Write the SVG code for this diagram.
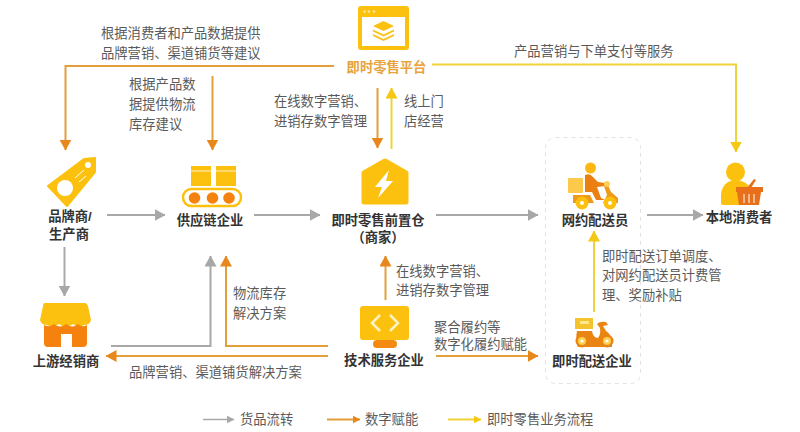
<svg xmlns="http://www.w3.org/2000/svg" width="800" height="432" viewBox="0 0 800 432">
<style>
text{font-family:"Liberation Sans","Noto Sans CJK SC",sans-serif;font-size:13.3px;fill:#5a5a5a}
.n{font-weight:700;fill:#333;text-anchor:middle}
.g,.o,.y{fill:none;stroke-width:2}
.g{stroke:#a8a8a8}.o{stroke:#e3a03a}.y{stroke:#efd23a}
.fy{fill:#fcc10f}.fo{fill:#f5820f}.w{fill:#fff}
</style>
<defs>
<marker id="mg" markerUnits="userSpaceOnUse" markerWidth="11" markerHeight="12" refX="10.500" refY="6" orient="auto"><path d="M0 0L11 6L0 12Z" fill="#a8a8a8"/></marker>
<marker id="mo" markerUnits="userSpaceOnUse" markerWidth="11" markerHeight="12" refX="10.500" refY="6" orient="auto"><path d="M0 0L11 6L0 12Z" fill="#e8871c"/></marker>
<marker id="my" markerUnits="userSpaceOnUse" markerWidth="11" markerHeight="12" refX="10.500" refY="6" orient="auto"><path d="M0 0L11 6L0 12Z" fill="#f4c815"/></marker>
<marker id="lg" markerUnits="userSpaceOnUse" markerWidth="8" markerHeight="8" refX="7.500" refY="4" orient="auto"><path d="M0 0L8 4L0 8Z" fill="#a8a8a8"/></marker>
<marker id="lo" markerUnits="userSpaceOnUse" markerWidth="8" markerHeight="8" refX="7.500" refY="4" orient="auto"><path d="M0 0L8 4L0 8Z" fill="#e8871c"/></marker>
<marker id="ly" markerUnits="userSpaceOnUse" markerWidth="8" markerHeight="8" refX="7.500" refY="4" orient="auto"><path d="M0 0L8 4L0 8Z" fill="#f4c815"/></marker>
</defs>
<rect x="545.500" y="137.500" width="95" height="246" rx="10" fill="none" stroke="#e2e2e2" stroke-dasharray="4 4"/>
<g id="connectors">
<path class="o" marker-end="url(#mo)" d="M334 66H65.500V150"/>
<path class="o" marker-end="url(#mo)" d="M212.500 76V150"/>
<path class="o" marker-end="url(#mo)" d="M377.500 88V148"/>
<path class="y" marker-end="url(#my)" d="M391.500 149V88"/>
<path class="y" marker-end="url(#my)" d="M432 64.500H736V152"/>
<path class="g" marker-end="url(#mg)" d="M107 215H165"/>
<path class="g" marker-end="url(#mg)" d="M254 215H320"/>
<path class="g" marker-end="url(#mg)" d="M436 215H538"/>
<path class="g" marker-end="url(#mg)" d="M647 215H703"/>
<path class="g" marker-end="url(#mg)" d="M64.500 247V296"/>
<path class="g" marker-end="url(#mg)" d="M111 346H210.500V256"/>
<path class="o" marker-end="url(#mo)" d="M328 346H226V256"/>
<path class="o" marker-end="url(#mo)" d="M328 356H106"/>
<path class="o" marker-end="url(#mo)" d="M385.500 300V256"/>
<path class="o" marker-end="url(#mo)" d="M436 356H538"/>
<path class="y" marker-end="url(#my)" d="M594 312V231"/>
<path class="g" marker-end="url(#lg)" d="M203 419.500H234" style="stroke-width:1.500"/>
<path class="o" marker-end="url(#lo)" d="M327 419.500H360"/>
<path class="y" marker-end="url(#ly)" d="M448 419.500H481"/>
</g>
<g id="platform">
<rect x="358" y="6" width="51" height="44" rx="3" class="fy"/>
<rect x="362" y="17" width="43" height="29" class="w"/>
<circle cx="364.500" cy="11.500" r="1.200" fill="#ffe9a0"/><circle cx="369" cy="11.500" r="1.200" fill="#ffe9a0"/><circle cx="374" cy="11.500" r="1.200" fill="#ffe9a0"/>
<path d="M383.500 21L394 26L383.500 31L373 26Z" class="fy"/>
<path d="M373 29.500L383.500 34.500L394 29.500V31.500L383.500 36.500L373 31.500Z" class="fy"/>
<path d="M373 34L383.500 39L394 34V36L383.500 41L373 36Z" class="fy"/>
<text x="386.500" y="72" class="n" style="fill:#e8a33d">即时零售平台</text>
</g>
<g id="brand">
<path d="M48 186L84 159L95 158L95 172L67 206Z" class="fy" stroke="#fcc10f" stroke-width="2" stroke-linejoin="round"/>
<circle cx="65" cy="188" r="8" class="w"/><circle cx="88" cy="165" r="3" class="w"/>
<path d="M75 178L84 170M79 182L86 176" stroke="#fff" fill="none"/>
<text x="70" y="221" class="n">品牌商/</text><text x="69" y="238.500" class="n">生产商</text>
</g>
<g id="supply">
<rect x="191" y="166" width="20" height="20" class="fy"/><rect x="216" y="166" width="20" height="20" class="fy"/>
<path d="M191 171H211M216 171H236" stroke="#fff" fill="none" stroke-width=".8"/>
<rect x="183" y="189" width="58" height="17" rx="8.500" fill="#fff" stroke="#fcc10f" stroke-width="2.500"/>
<circle cx="194.500" cy="198" r="5.800" class="fo"/><circle cx="212.500" cy="198" r="5.800" class="fo"/><circle cx="229" cy="198" r="5.800" class="fo"/>
<text x="210" y="225" class="n">供应链企业</text>
</g>
<g id="warehouse">
<path d="M385 161L406 173V202H364V173Z" class="fy" stroke="#fcc10f" stroke-width="5" stroke-linejoin="round"/>
<path d="M389 170L375 187H382L378 198L393 181H386Z" class="w"/>
<text x="378" y="225" class="n">即时零售前置仓</text><text x="378" y="242" class="n">（商家）</text>
</g>
<g id="rider">
<rect x="568" y="178" width="15" height="15" rx="1" fill="#fcc94a"/>
<circle cx="590.500" cy="168" r="5.500" fill="#fcb712"/>
<path d="M585 175Q590 173 593 177L598 182L605 183V186L597 187L601 198L605 200H596L592 192H585Z" fill="#ea7f12"/>
<path d="M573 195H590L594 203H603L607 195L604 186L608 185L611 192L618 198V203H573Z" fill="#f09a1a"/>
<circle cx="607" cy="184" r="3" fill="#fcd050"/>
<circle cx="582" cy="203" r="6.500" class="fy"/><circle cx="610" cy="203" r="6.500" class="fy"/>
<circle cx="582" cy="203" r="2" class="w"/><circle cx="610" cy="203" r="2" class="w"/>
<text x="595" y="225" class="n">网约配送员</text>
</g>
<g id="consumer">
<circle cx="735.500" cy="172" r="9.500" class="fy"/>
<path d="M721 204V195Q722 181 736 180Q748 181 751 190V205H724Q721 205 721 204Z" class="fy"/>
<path d="M739 205L737 192H761L759 205Z" fill="#e8701a"/>
<path d="M736 187H763V192H736ZM747 188L754 179L756 180L751 188Z" fill="#e8701a"/>
<path d="M744 194V203M749 194V203M754 194V203" stroke="#fff" fill="none"/>
<text x="739" y="222" class="n">本地消费者</text>
</g>
<g id="dealer">
<path d="M45 303H85Q87 303 88 306L91 320Q90 325 84 325Q78 329 73 324Q66 329 59 324Q53 329 47 325Q41 325 40 320L43 306Q43 303 45 303Z" class="fy"/>
<path d="M44 325Q50 328 54 324Q60 329 66 324Q73 329 78 324Q82 328 87 325V343Q87 347 83 347H72V334H61V347H48Q44 347 44 343Z" class="fo"/>
<text x="66" y="366" class="n">上游经销商</text>
</g>
<g id="tech">
<rect x="360" y="306" width="49" height="34" rx="3" class="fy"/>
<rect x="373" y="340" width="24" height="8" rx="4" fill="#f58a12"/>
<path d="M380 315L372 323L380 331M390 315L398 323L390 331" fill="none" stroke="#fff3c4" stroke-width="2.500"/>
<text x="384" y="365" class="n">技术服务企业</text>
</g>
<g id="delivery">
<rect x="575" y="318" width="18" height="11" fill="#f5c32c"/>
<rect x="580" y="321" width="9" height="3" fill="#ffe98a"/>
<path d="M577 331H592Q593 338 598 338Q601 334 600 328L597 324Q600 321 606 322L608 325L603 326L606 331Q611 334 612 341V347H578Q575 340 577 331Z" fill="#ea8412"/>
<circle cx="582" cy="341" r="6.500" fill="#ea8412"/><circle cx="607" cy="341" r="6.500" fill="#ea8412"/>
<circle cx="582" cy="341" r="4" fill="#fcd050"/><circle cx="607" cy="341" r="4" fill="#fcd050"/>
<circle cx="582" cy="341" r="1.600" class="w"/><circle cx="607" cy="341" r="1.600" class="w"/>
<text x="592" y="366" class="n">即时配送企业</text>
</g>
<g id="labels">
<text x="101" y="38">根据消费者和产品数据提供</text><text x="101" y="58">品牌营销、渠道铺货等建议</text>
<text x="129" y="89">根据产品数</text><text x="129" y="109">据提供物流</text><text x="129" y="129">库存建议</text>
<text x="274" y="106">在线数字营销、</text><text x="274" y="126">进销存数字管理</text>
<text x="404" y="106">线上门</text><text x="404" y="126">店经营</text>
<text x="514" y="56">产品营销与下单支付等服务</text>
<text x="233" y="298">物流库存</text><text x="233" y="318">解决方案</text>
<text x="129" y="377">品牌营销、渠道铺货解决方案</text>
<text x="396" y="276">在线数字营销、</text><text x="396" y="295">进销存数字管理</text>
<text x="434" y="332">聚合履约等</text><text x="434" y="349">数字化履约赋能</text>
<text x="602" y="261">即时配送订单调度、</text><text x="602" y="280">对网约配送员计费管</text><text x="602" y="300">理、奖励补贴</text>
<text x="240" y="424">货品流转</text><text x="365" y="424">数字赋能</text><text x="487" y="424">即时零售业务流程</text>
</g>
</svg>
